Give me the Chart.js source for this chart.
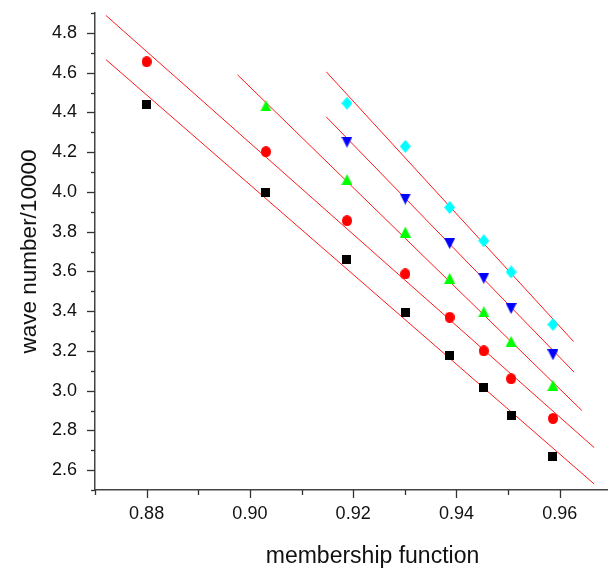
<!DOCTYPE html>
<html>
<head>
<meta charset="utf-8">
<script src="https://cdn.jsdelivr.net/npm/chart.js@4/dist/chart.umd.min.js"></script>
<style>
html, body { margin: 0; padding: 0; overflow: hidden; background: #fff; }
canvas { display: block; }
</style>
</head>
<body>
<canvas id="c" width="680" height="570"></canvas>
<script>
// ---- data ----
const xValues = [0.8800, 0.9031, 0.9188, 0.9301, 0.9387, 0.9453, 0.9506, 0.9587];
const seriesBlack = [4.438, 3.995, 3.659, 3.393, 3.175, 3.018, 2.874, 2.668];
const seriesRed   = [4.655, 4.202, 3.855, 3.587, 3.369, 3.200, 3.060, 2.860];
const seriesGreen = [null, 4.433, 4.062, 3.798, 3.565, 3.397, 3.248, 3.027];
const seriesBlue  = [null, null, 4.250, 3.964, 3.740, 3.565, 3.413, 3.180];
const seriesCyan  = [null, null, 4.446, 4.229, 3.922, 3.754, 3.597, 3.333];

// fitted lines: [start, end] endpoints
const fitBlackX = [0.8721, 0.9667], fitBlackY = [4.666, 2.530];
const fitRedX   = [0.8721, 0.9667], fitRedY   = [4.888, 2.713];
const fitGreenX = [0.8976, 0.9643], fitGreenY = [4.589, 2.900];
const fitBlueX  = [0.9148, 0.9628], fitBlueY  = [4.377, 3.093];
const fitCyanX  = [0.9148, 0.9627], fitCyanY  = [4.604, 3.247];

// tick labels and tick marks
const xTickLabels = [0.88, 0.90, 0.92, 0.94, 0.96];
const yTickLabels = [2.6, 2.8, 3.0, 3.2, 3.4, 3.6, 3.8, 4.0, 4.2, 4.4, 4.6, 4.8];
const xTickMarks = [0.87, 0.88, 0.89, 0.90, 0.91, 0.92, 0.93, 0.94, 0.95, 0.96, 0.97];
const yTickMarks = [2.5, 2.6, 2.7, 2.8, 2.9, 3.0, 3.1, 3.2, 3.3, 3.4, 3.5, 3.6, 3.7, 3.8, 3.9, 4.0, 4.1, 4.2, 4.3, 4.4, 4.5, 4.6, 4.7, 4.8, 4.9];

const xTitle = 'membership function';
const yTitle = 'wave number/10000';

// ---- marker images ----
function marker(w, h, draw) {
  const c = document.createElement('canvas');
  c.width = w; c.height = h;
  const g = c.getContext('2d');
  draw(g, w, h);
  return c;
}
const mSquare = marker(9, 9, (g, w, h) => { g.fillStyle = '#000'; g.fillRect(0, 0, w, h); });
const mCircle = marker(10, 11, (g, w, h) => { g.fillStyle = '#ff0000'; g.beginPath(); g.ellipse(w/2, h/2, w/2, h/2, 0, 0, Math.PI*2); g.fill(); });
const mTriUp = marker(11, 11, (g, w, h) => { g.fillStyle = '#00ff00'; g.beginPath(); g.moveTo(w/2, 0); g.lineTo(w, h); g.lineTo(0, h); g.closePath(); g.fill(); });
const mTriDown = marker(11, 11, (g, w, h) => { g.fillStyle = '#0000ff'; g.beginPath(); g.moveTo(0, 0); g.lineTo(w, 0); g.lineTo(w/2, h); g.closePath(); g.fill(); });
const mDiamond = marker(11, 13, (g, w, h) => { g.fillStyle = '#00ffff'; g.beginPath(); g.moveTo(w/2, 0); g.lineTo(w, h/2); g.lineTo(w/2, h); g.lineTo(0, h/2); g.closePath(); g.fill(); });

function pts(xs, ys) {
  const out = [];
  xs.forEach((x, i) => { if (ys[i] !== null) out.push({x: x, y: ys[i]}); });
  return out;
}
function scatterSet(ys, img, color) {
  return { type: 'scatter', data: pts(xValues, ys), pointStyle: img, pointRadius: 5, pointHoverRadius: 5,
           backgroundColor: color, borderColor: color, showLine: false, order: 1 };
}
function lineSet(xs, ys) {
  return { type: 'scatter', data: pts(xs, ys), showLine: true, borderColor: '#ff1a1a', borderWidth: 1,
           pointRadius: 0, pointHoverRadius: 0, fill: false, order: 2 };
}

const tickPlugin = {
  id: 'tickMarks',
  afterDraw(chart) {
    const ctx = chart.ctx, xs = chart.scales.x, ys = chart.scales.y;
    ctx.save();
    ctx.strokeStyle = '#333';
    ctx.lineWidth = 1.3;
    const isMajor = (arr, v) => arr.some(t => Math.abs(t - v) < 1e-9);
    xTickMarks.forEach(v => {
      const px = Math.round(xs.getPixelForValue(v)) + 0.5;
      const len = isMajor(xTickLabels, v) ? 8 : 5;
      ctx.beginPath(); ctx.moveTo(px, xs.top); ctx.lineTo(px, xs.top + len); ctx.stroke();
    });
    yTickMarks.forEach(v => {
      const py = Math.round(ys.getPixelForValue(v)) + 0.5;
      const len = isMajor(yTickLabels, v) ? 8 : 4;
      ctx.beginPath(); ctx.moveTo(ys.right, py); ctx.lineTo(ys.right - len, py); ctx.stroke();
    });
    ctx.restore();
  }
};

const FONT = 'Liberation Sans, Arial, sans-serif';

new Chart(document.getElementById('c'), {
  type: 'scatter',
  data: {
    datasets: [
      lineSet(fitBlackX, fitBlackY),
      lineSet(fitRedX, fitRedY),
      lineSet(fitGreenX, fitGreenY),
      lineSet(fitBlueX, fitBlueY),
      lineSet(fitCyanX, fitCyanY),
      scatterSet(seriesBlack, mSquare, '#000'),
      scatterSet(seriesRed, mCircle, '#ff0000'),
      scatterSet(seriesGreen, mTriUp, '#00ff00'),
      scatterSet(seriesBlue, mTriDown, '#0000ff'),
      scatterSet(seriesCyan, mDiamond, '#00ffff')
    ]
  },
  options: {
    responsive: false,
    animation: false,
    devicePixelRatio: 1,
    layout: { padding: { top: 13, right: 30, left: 0, bottom: 0 } },
    plugins: { legend: { display: false }, tooltip: { enabled: false } },
    scales: {
      x: {
        type: 'linear', min: 0.87, max: 0.9775,
        afterBuildTicks: s => { s.ticks = xTickLabels.map(v => ({ value: v })); },
        afterFit: s => { s.height = 80; s.paddingLeft = 0; s.paddingRight = 0; },
        grid: { display: false, drawTicks: false },
        border: { display: true, color: '#444', width: 1.5 },
        ticks: { padding: 13, color: '#111', font: { family: FONT, size: 18 },
                 callback: v => v.toFixed(2), maxRotation: 0, autoSkip: false },
        title: { display: true, text: xTitle, color: '#111', padding: { top: 0, bottom: 0 },
                 font: { family: FONT, size: 23 } }
      },
      y: {
        type: 'linear', min: 2.5, max: 4.9,
        afterBuildTicks: s => { s.ticks = yTickLabels.map(v => ({ value: v })); },
        afterFit: s => { s.width = 95; s.paddingTop = 0; s.paddingBottom = 0; },
        grid: { display: false, drawTicks: false },
        border: { display: true, color: '#444', width: 1.5 },
        ticks: { padding: 18, color: '#111', font: { family: FONT, size: 18 },
                 callback: v => v.toFixed(1), autoSkip: false },
        title: { display: true, text: yTitle, color: '#111', padding: { top: 16, bottom: 0 },
                 font: { family: FONT, size: 22.5 } }
      }
    }
  },
  plugins: [tickPlugin]
});
</script>
</body>
</html>
